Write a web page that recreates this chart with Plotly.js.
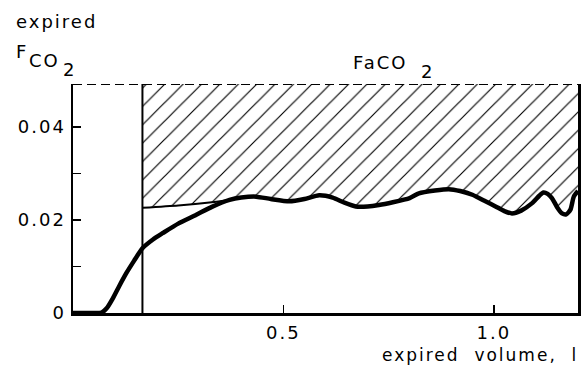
<!DOCTYPE html>
<html>
<head>
<meta charset="utf-8">
<script src="https://cdn.plot.ly/plotly-3.0.1.min.js"></script>
<style>
  html, body { margin: 0; padding: 0; background: #fff; }
  #chart { width: 586px; height: 373px; }
  svg text { letter-spacing: 2px; }
</style>
</head>
<body>
<div id="chart"></div>
<script>
// ---- data ----
// expired CO2 fraction curve (thick line)
const volume = [0, 0.05, 0.068, 0.08, 0.095, 0.11, 0.127, 0.145, 0.165, 0.19, 0.214, 0.25, 0.293, 0.33, 0.372, 0.40, 0.435, 0.47, 0.514, 0.55, 0.585, 0.617, 0.645, 0.672, 0.70, 0.727, 0.76, 0.80, 0.822, 0.86, 0.893, 0.92, 0.949, 0.98, 1.004, 1.025, 1.043, 1.065, 1.091, 1.108, 1.118, 1.128, 1.138, 1.15, 1.162, 1.172, 1.182, 1.19, 1.2];
const fco2 = [0, 0, 0.0001, 0.0010, 0.0032, 0.0058, 0.0086, 0.0112, 0.0139, 0.0158, 0.0172, 0.0192, 0.0211, 0.0228, 0.0243, 0.0248, 0.0250, 0.0245, 0.0240, 0.0245, 0.0253, 0.0248, 0.0237, 0.0229, 0.0229, 0.0232, 0.0238, 0.0247, 0.0257, 0.0263, 0.0266, 0.0262, 0.0254, 0.0240, 0.0229, 0.0219, 0.0214, 0.0220, 0.0236, 0.0252, 0.0259, 0.0256, 0.0247, 0.0228, 0.0214, 0.0212, 0.0222, 0.0250, 0.0262];
// thin line: start of the hatched area's lower edge
const faX = [0.165, 0.25, 0.33];
const faY = [0.0226, 0.0231, 0.0238];
const joinFrom = 0.37;          // hatched edge follows the curve from here
const deadSpaceX = [0.165];     // vertical line
const fMax = 0.0492;            // top of the scale (dashed)
const xMax = 1.2;
const xTickVals = [0.5, 1.0];
const xTickText = ['0.5', '1.0'];
const yTickVals = [0, 0.01, 0.02, 0.03, 0.04];
const yTickText = ['0', '', '0.02', '', '0.04'];

// ---- build traces ----
const tailX = [], tailY = [];
volume.forEach((v, i) => { if (v >= joinFrom) { tailX.push(v); tailY.push(fco2[i]); } });
const lowerX = faX.concat(tailX);
const lowerY = faY.concat(tailY);

const FONT = 'DejaVu Sans, Liberation Sans, sans-serif';

const traces = [
  { // top edge of hatched region
    x: [deadSpaceX[0], xMax], y: [fMax, fMax], mode: 'lines',
    line: { width: 0, color: 'rgba(0,0,0,0)' }, hoverinfo: 'skip', showlegend: false
  },
  { // hatched region
    x: lowerX, y: lowerY, mode: 'lines', fill: 'tonexty',
    line: { width: 0, color: 'rgba(0,0,0,0)', shape: 'spline', smoothing: 0.6 },
    fillcolor: 'rgba(0,0,0,0)',
    fillpattern: { shape: '/', size: 13, solidity: 0.09, fgcolor: '#000', bgcolor: 'rgba(0,0,0,0)' },
    hoverinfo: 'skip', showlegend: false
  },
  { // thin FaCO2 line
    x: faX.concat([tailX[0]]), y: faY.concat([tailY[0]]), mode: 'lines',
    line: { width: 2, color: '#000', shape: 'spline', smoothing: 0.6 },
    hoverinfo: 'skip', showlegend: false
  },
  { // vertical dead-space line
    x: [deadSpaceX[0], deadSpaceX[0]], y: [0, fMax], mode: 'lines',
    line: { width: 2, color: '#000' }, hoverinfo: 'skip', showlegend: false
  },
  { // expired CO2 curve
    x: volume, y: fco2, mode: 'lines',
    line: { width: 4.5, color: '#000', shape: 'spline', smoothing: 0.6 },
    hoverinfo: 'skip', showlegend: false
  }
];

// pixel -> paper helper for text placement
const L = 73, R = 8, T = 84, B = 60, W = 586, H = 373;
const pw = W - L - R, ph = H - T - B;
function ann(text, px, baseline, anchor, size) {
  const fs = size || 18;
  return {
    text: text, xref: 'paper', yref: 'paper',
    x: (px - L) / pw, y: (H - B - (baseline - 0.32 * fs)) / ph,
    xanchor: anchor || 'left', yanchor: 'middle', showarrow: false,
    font: { family: FONT, size: fs, color: '#000' }, borderpad: 0
  };
}

const layout = {
  width: W, height: H,
  margin: { l: L, r: R, t: T, b: B, pad: 0 },
  paper_bgcolor: '#fff', plot_bgcolor: '#fff',
  showlegend: false,
  font: { family: FONT, size: 18, color: '#000' },
  xaxis: {
    range: [0, xMax], showgrid: false, zeroline: false,
    showline: true, linewidth: 2.5, linecolor: '#000',
    ticks: 'inside', ticklen: 8, tickwidth: 1.5, tickcolor: '#000',
    tickvals: xTickVals, ticktext: xTickText,
    tickfont: { family: FONT, size: 18, color: '#000' }, ticklabelstandoff: 2
  },
  yaxis: {
    range: [0, fMax], showgrid: false, zeroline: false,
    showline: true, mirror: true, linewidth: 2.5, linecolor: '#000',
    ticks: 'inside', ticklen: 8, tickwidth: 1.5, tickcolor: '#000',
    tickvals: yTickVals, ticktext: yTickText,
    tickfont: { family: FONT, size: 18, color: '#000' }, ticklabelstandoff: 1
  },
  shapes: [{
    type: 'line', xref: 'paper', yref: 'y', x0: 0, x1: 1, y0: fMax, y1: fMax,
    line: { color: '#000', width: 2, dash: '9px,5px' }
  }],
  annotations: [
    ann('expired', 15, 27),
    ann('F', 15, 57),
    ann('CO', 28, 66),
    ann('2', 62, 75),
    ann('FaCO', 352, 68),
    ann('2', 420, 77),
    ann('expired\u00a0 volume,\u00a0 l', 579, 360, 'right', 17)
  ]
};

Plotly.newPlot('chart', traces, layout, { staticPlot: true, displayModeBar: false });
</script>
</body>
</html>
